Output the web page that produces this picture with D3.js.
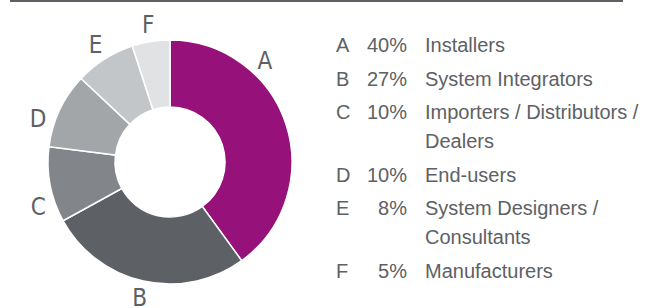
<!DOCTYPE html>
<html>
<head>
<meta charset="utf-8">
<script src="https://cdn.jsdelivr.net/npm/d3@7"></script>
<style>
  html, body { margin: 0; padding: 0; background: #fff; }
  svg { display: block; }
</style>
</head>
<body>
<svg id="chart" width="655" height="308"></svg>
<script>
(function() {
  'use strict';

  // chart data
  var keys = ['A', 'B', 'C', 'D', 'E', 'F'];
  var shares = [40, 27, 10, 10, 8, 5];
  var names = [
    ['Installers'],
    ['System Integrators'],
    ['Importers / Distributors /', 'Dealers'],
    ['End-users'],
    ['System Designers /', 'Consultants'],
    ['Manufacturers']
  ];
  var colors = ['#96117a', '#5d6165', '#828589', '#a3a6a9', '#c3c6c8', '#e1e2e3'];

  // small hand nudges for the outer letters (degrees), like the original layout
  var labelNudge = { A: -29, C: -8, D: -7 };

  var textColor = '#5d6165';
  var svg = d3.select('#chart');

  svg.append('line')
    .attr('x1', 10).attr('x2', 623)
    .attr('y1', 1).attr('y2', 1)
    .attr('stroke', '#5d6165')
    .attr('stroke-width', 2);

  var cx = 170, cy = 162, outerR = 122, innerR = 55, labelR = 139;

  var slices = d3.pie().sort(null).value(function(d) { return d; })(shares);
  var arc = d3.arc().innerRadius(innerR).outerRadius(outerR);

  var donut = svg.append('g').attr('transform', 'translate(' + cx + ',' + cy + ')');

  donut.selectAll('path.slice')
    .data(slices)
    .enter().append('path')
    .attr('class', 'slice')
    .attr('d', arc)
    .attr('fill', function(d, i) { return colors[i]; })
    .attr('stroke', '#fff')
    .attr('stroke-width', 1.5);

  donut.selectAll('text.key')
    .data(slices)
    .enter().append('text')
    .attr('class', 'key')
    .attr('transform', function(d, i) {
      var a = (d.startAngle + d.endAngle) / 2 + (labelNudge[keys[i]] || 0) * Math.PI / 180;
      return 'translate(' + (Math.sin(a) * labelR) + ',' + (-Math.cos(a) * labelR) + ')';
    })
    .attr('text-anchor', 'middle')
    .attr('dy', '0.36em')
    .attr('font-family', '"Liberation Sans Narrow", "DejaVu Sans Condensed", sans-serif')
    .attr('font-size', 24)
    .attr('fill', textColor)
    .text(function(d, i) { return keys[i]; });

  // legend
  var rowGap = 33.5, lineGap = 29;
  var legend = svg.append('g')
    .attr('font-family', '"Liberation Sans", Arial, sans-serif')
    .attr('font-size', 20)
    .attr('fill', textColor);

  var y = 52;
  keys.forEach(function(k, i) {
    var row = legend.append('g').attr('transform', 'translate(0,' + y + ')');
    row.append('text').attr('x', 336).text(k);
    row.append('text').attr('x', 407).attr('text-anchor', 'end').text(shares[i] + '%');
    names[i].forEach(function(line, j) {
      row.append('text').attr('x', 425).attr('y', j * lineGap).text(line);
    });
    y += rowGap + (names[i].length - 1) * lineGap;
  });
})();
</script>
</body>
</html>
